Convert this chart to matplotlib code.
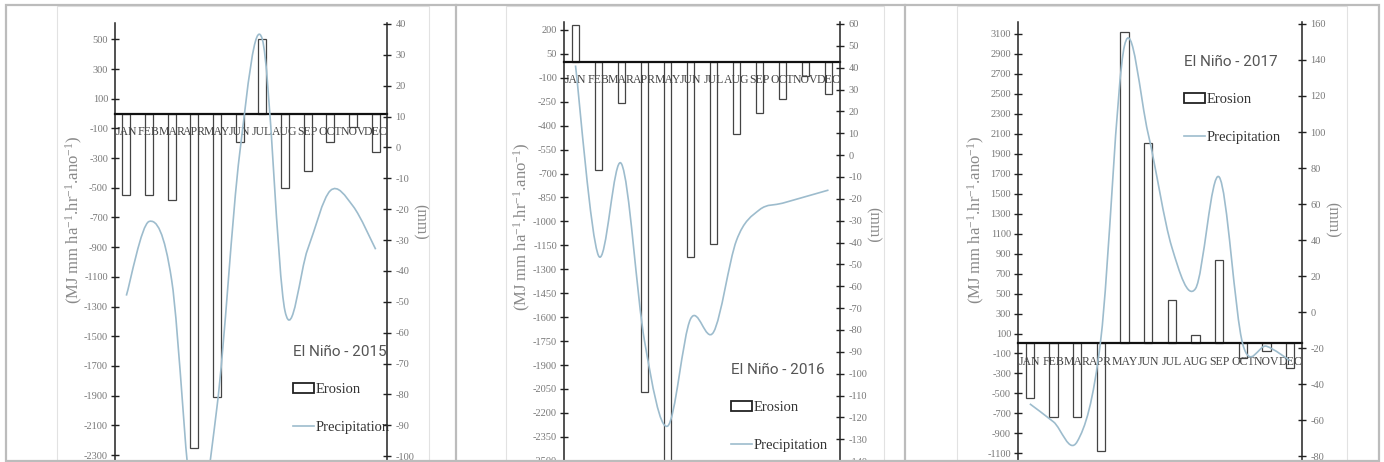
import matplotlib.pyplot as plt
import numpy as np
from matplotlib.path import Path
from matplotlib.patches import PathPatch, Rectangle
from matplotlib.lines import Line2D

# valores
months = ["JAN", "FEB", "MAR", "APR", "MAY", "JUN",
          "JUL", "AUG", "SEP", "OCT", "NOV", "DEC"]

erosion_2015 = [-550, -550, -580, -2250, -1910, -190, 500, -500, -390, -190, -90, -260]
precip_2015 = [-48, -24, -43, -120, -84, -2, 35, -53, -33, -14, -19, -33]

erosion_2016 = [230, -680, -260, -2070, -2600, -1220, -1140, -450, -320, -230, -90, -200]
precip_2016 = [41, -46, -4, -85, -124, -75, -81, -39, -25, -22, -19, -16]

erosion_2017 = [-550, -740, -740, -1080, 3120, 2010, 440, 90, 840, -150, -80, -250]
precip_2017 = [-51, -61, -72, -15, 148, 99, 36, 13, 75, -18, -19, -27]

W, H = 1384, 462
LINE_C = "#9dbccd"
SERIF = ["Liberation Serif", "DejaVu Serif"]
SANS = ["Roboto", "DejaVu Sans"]

plt.rcParams["axes.unicode_minus"] = False
plt.rcParams["font.family"] = SERIF

# layout em pixels (x esquerdo, x direito, topo) e limites dos eixos
panels = [
    dict(title="El Niño - 2015", ero=erosion_2015, pre=precip_2015,
         box=(115, 387, 23), lylim=(-2347, 610), lticks=np.arange(-2300, 501, 200),
         rylim=(-101.9, 40.3), rticks=np.arange(-100, 41, 10),
         ylab=(74, 220), rlab=(420, 222), leg=(286, 338)),
    dict(title="El Niño - 2016", ero=erosion_2016, pre=precip_2016,
         box=(564, 840, 22), lylim=(-2508, 250), lticks=np.arange(-2500, 201, 150),
         rylim=(-140.4, 60.9), rticks=np.arange(-140, 61, 10),
         ylab=(522, 227), rlab=(873, 225), leg=(724, 356)),
    dict(title="El Niño - 2017", ero=erosion_2017, pre=precip_2017,
         box=(1018, 1302, 22), lylim=(-1187, 3220), lticks=np.arange(-1100, 3101, 200),
         rylim=(-83.3, 161.1), rticks=np.arange(-80, 161, 20),
         ylab=(976, 220), rlab=(1332, 220), leg=(1177, 48)),
]


def smooth_path(xs, ys):
    # curva suavizada tipo Excel (Catmull-Rom em Bezier)
    p = np.column_stack([xs, ys]).astype(float)
    pp = np.vstack([p[0], p, p[-1]])
    verts = [p[0]]
    codes = [Path.MOVETO]
    for i in range(len(p) - 1):
        p0, p1, p2, p3 = pp[i], pp[i + 1], pp[i + 2], pp[i + 3]
        verts += [p1 + (p2 - p0) / 6, p2 - (p3 - p1) / 6, p2]
        codes += [Path.CURVE4] * 3
    return Path(verts, codes)


fig = plt.figure(figsize=(W / 100, H / 100), dpi=100)

for pn in panels:
    x0, x1, y0 = pn["box"]
    ax = fig.add_axes([x0 / W, 0, (x1 - x0) / W, 1 - y0 / H])
    ax.set_axisbelow(False)
    x = np.arange(12)
    ax.bar(x, pn["ero"], width=0.34, facecolor="white", edgecolor="#444",
           linewidth=0.9, zorder=1)
    ax.set_xlim(-0.5, 11.5)
    ax.set_ylim(*pn["lylim"])
    ax.set_yticks(pn["lticks"])
    ax.set_xticks(x, months)
    for s in ["top", "right"]:
        ax.spines[s].set_visible(False)
    ax.spines["bottom"].set_position(("data", 0))
    ax.spines["bottom"].set_linewidth(1.6)
    ax.spines["bottom"].set_color("#111")
    ax.spines["left"].set_linewidth(1.1)
    ax.spines["left"].set_color("#222")
    ax.tick_params(axis="x", length=0, pad=9, labelsize=8.5, labelcolor="#444")
    ax.tick_params(axis="y", direction="inout", length=6, width=1, color="#222",
                   pad=2, labelsize=7.5, labelcolor="#777")
    ax.set_ylabel("(MJ mm ha$\\mathregular{^{-1}}$.hr$\\mathregular{^{-1}}$.ano$\\mathregular{^{-1}}$)",
                  fontsize=12, color="#8a8a8a", va="center", ha="center")
    lx, ly = pn["ylab"]
    ax.yaxis.set_label_coords((lx - x0) / (x1 - x0), (H - ly) / (H - y0))

    ax2 = ax.twinx()
    ax2.set_ylim(*pn["rylim"])
    ax2.set_yticks(pn["rticks"])
    for s in ["top", "left", "bottom"]:
        ax2.spines[s].set_visible(False)
    ax2.spines["right"].set_linewidth(1.1)
    ax2.spines["right"].set_color("#222")
    ax2.tick_params(axis="y", direction="inout", length=6, width=1, color="#222",
                    pad=3, labelsize=7.5, labelcolor="#777")
    ax2.add_patch(PathPatch(smooth_path(x, pn["pre"]), fill=False,
                            edgecolor=LINE_C, linewidth=1.2))
    ax2.set_ylabel("(mm)", rotation=270, fontsize=11.5, color="#8a8a8a",
                   va="center", ha="center")
    rx, ry = pn["rlab"]
    ax2.yaxis.set_label_coords((rx - x0) / (x1 - x0), (H - ry) / (H - y0))

    handles = [Rectangle((0, 0), 1, 1, facecolor="white", edgecolor="#222", linewidth=1.3),
               Line2D([], [], color=LINE_C, linewidth=1.2)]
    gx, gy = pn["leg"]
    leg = ax2.legend(handles, ["Erosion", "Precipitation"], title=pn["title"],
                     loc="upper left", bbox_to_anchor=(gx / W, 1 - gy / H),
                     bbox_transform=fig.transFigure, frameon=False, borderpad=0,
                     handlelength=1.45, handletextpad=0.05, labelspacing=1.7,
                     alignment="left", prop={"family": SERIF, "size": 10.5})
    leg.get_title().set_fontfamily(SANS)
    leg.get_title().set_fontsize(11)
    leg.get_title().set_color("#555")
    for t in leg.get_texts():
        t.set_color("#333")
    leg._legend_box.sep = 17

# molduras da captura
for a, b in [(57, 429), (506, 884), (957, 1347)]:
    fig.add_artist(Rectangle((a / W, 0), (b - a) / W, 1 - 6 / H, transform=fig.transFigure,
                             fill=False, edgecolor="#e2e2e2", linewidth=0.8))
fig.add_artist(Rectangle((5.5 / W, 1 - 460.5 / H), 1373 / W, 455.5 / H,
                         transform=fig.transFigure, fill=False,
                         edgecolor="#bcbcbc", linewidth=1.6))
for xd in (455.5, 904.5):
    fig.add_artist(Line2D([xd / W, xd / W], [1 - 460.5 / H, 1 - 5 / H],
                          transform=fig.transFigure, color="#bcbcbc", linewidth=1.6))

fig.savefig("out.png", dpi=100)
